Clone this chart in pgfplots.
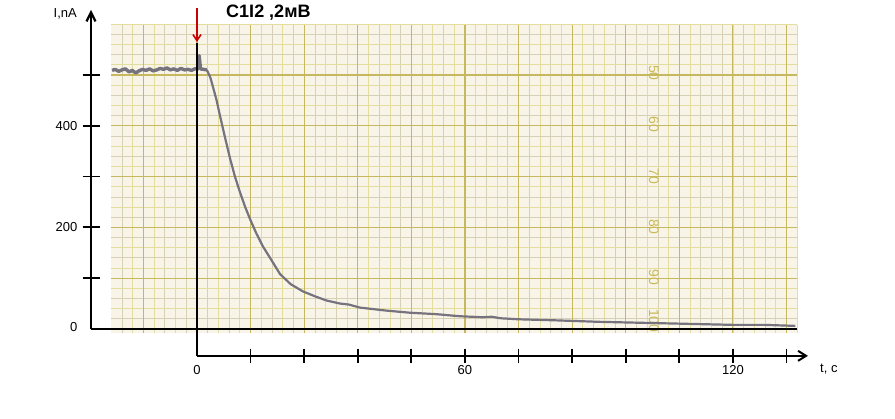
\documentclass[border=0pt]{standalone}
\usepackage{fontspec}
\setmainfont{Liberation Sans}
\usepackage{pgfplots}
\pgfplotsset{compat=1.18}
\usetikzlibrary{arrows.meta}
\definecolor{paper}{HTML}{F8F5E8}
\definecolor{majorg}{HTML}{C6B85E}
\definecolor{minorg}{HTML}{D6D1B6}
\definecolor{minory}{HTML}{E3DD9E}
\definecolor{trace}{HTML}{76727E}
\definecolor{paperno}{HTML}{C9BA55}

\begin{document}
\begin{tikzpicture}
\begin{axis}[
  x=4.4667pt, y=0.508pt,
  xmin=-44.1, xmax=156.3, ymin=-177.2, ymax=647.6,
  hide axis, clip=false,
]
\path (rel axis cs:0,0) rectangle (rel axis cs:1,1);
% chart paper
\fill[paper] (axis cs:-19.2,-8) rectangle (axis cs:134.3,598);
\pgfplotsinvokeforeach{-16.8,-12,...,132.1}{\draw[minorg,line width=0.7pt] (axis cs:#1,-8) -- (axis cs:#1,598);}
\pgfplotsinvokeforeach{-14.4,-9.6,...,132.1}{\draw[minory,line width=0.7pt] (axis cs:#1,-8) -- (axis cs:#1,598);}
\pgfplotsinvokeforeach{20,60,...,580}{\draw[minorg,line width=0.7pt] (axis cs:-19.2,#1) -- (axis cs:134.3,#1);}
\pgfplotsinvokeforeach{40,80,...,580}{\draw[minory,line width=0.7pt] (axis cs:-19.2,#1) -- (axis cs:134.3,#1);}
\pgfplotsinvokeforeach{-12,0,...,132}{\draw[majorg,line width=1.2pt] (axis cs:#1,-8) -- (axis cs:#1,598);}
\pgfplotsinvokeforeach{100,200,...,500}{\draw[majorg,line width=1.2pt] (axis cs:-19.2,#1) -- (axis cs:134.3,#1);}
\foreach \v/\yy in {50/504,60/402,70/301,80/201,90/102,100/16}{
  \edef\tmp{\noexpand\node[paperno,rotate=-90,font=\noexpand\fontsize{14}{14}\noexpand\selectfont] at (axis cs:102.3,\yy) {\v};}\tmp}

% recorded current
\addplot[trace, line width=3.4pt, line join=round] coordinates {
(-19,509) (-18.3,511) (-17.5,507) (-16.8,510) (-16,512) (-15.2,506)
(-14.5,509) (-13.7,504) (-13,508) (-12.2,511) (-11.4,509) (-10.6,512)
(-9.8,508) (-9,510) (-8.2,513) (-7.5,511) (-6.7,514) (-6,510)
(-5.2,512) (-4.4,509) (-3.6,513) (-2.8,510) (-2,511) (-1.2,509)
(-0.5,512) (0.3,512) (0.5,538) (0.8,512) (1.5,511) (2.2,510)
};
\addplot[trace, line width=2.2pt, line join=round] coordinates {
(2.2,510) (3.0,495) (3.6,476) (4.4,450) (5.1,422) (6.2,380) (7.4,336)
(8.5,300) (9.6,270) (10.8,240) (11.9,216) (13.3,188) (14.8,162)
(16.5,138) (18.6,108) (21,88) (23.7,74) (26.5,64) (29,56) (32,50)
(34,48) (36.5,42) (42.5,36) (47.6,32) (53.7,29) (58.8,25) (64,23)
(66,24) (68,21) (72,19) (80,17) (90,14) (100,12) (110,10) (120,8)
(127,8) (134,6)
};

% current axis
\draw[line width=2.4pt] (axis cs:-23.73,0) -- (axis cs:134.3,0);
\draw[line width=2.2pt,-{Straight Barb[length=9pt,width=9pt]}] (axis cs:-23.73,0) -- (axis cs:-23.73,628);
\foreach \yy in {100,200,300,400,500}{
  \edef\tmp{\noexpand\draw[line width=1.8pt] (axis cs:-25.6,\yy) -- (axis cs:-21.8,\yy);}\tmp}
\node[anchor=east,font=\fontsize{13}{13}\selectfont] at (axis cs:-26.0,400) {400};
\node[anchor=east,font=\fontsize{13}{13}\selectfont] at (axis cs:-26.0,200) {200};
\node[anchor=east,font=\fontsize{13}{13}\selectfont] at (axis cs:-26.0,4) {0};
\node[font=\fontsize{13}{13}\selectfont] at (axis cs:-29.5,620) {I,nA};

% time axis
\draw[line width=2pt] (axis cs:0,563) -- (axis cs:0,-53);
\draw[line width=2pt,-{Straight Barb[length=8pt,width=10pt]}] (axis cs:0,-53) -- (axis cs:136.8,-53);
\foreach \xx in {12,24,...,132}{
  \edef\tmp{\noexpand\draw[line width=1.8pt] (axis cs:\xx,-39) -- (axis cs:\xx,-67);}\tmp}
\node[font=\fontsize{13}{13}\selectfont] at (axis cs:0,-80) {0};
\node[font=\fontsize{13}{13}\selectfont] at (axis cs:60,-80) {60};
\node[font=\fontsize{13}{13}\selectfont] at (axis cs:120,-80) {120};
\node[font=\fontsize{13}{13}\selectfont] at (axis cs:141.5,-80) {t, c};

% stimulus marker
\draw[red!80!black,line width=1.6pt,-{Straight Barb[length=6pt,width=8pt]}] (axis cs:0,632) -- (axis cs:0,565);
\node[font=\bfseries\fontsize{18}{18}\selectfont] at (axis cs:16.0,622) {C1I2 ,2мВ};
\end{axis}
\end{tikzpicture}
\end{document}
